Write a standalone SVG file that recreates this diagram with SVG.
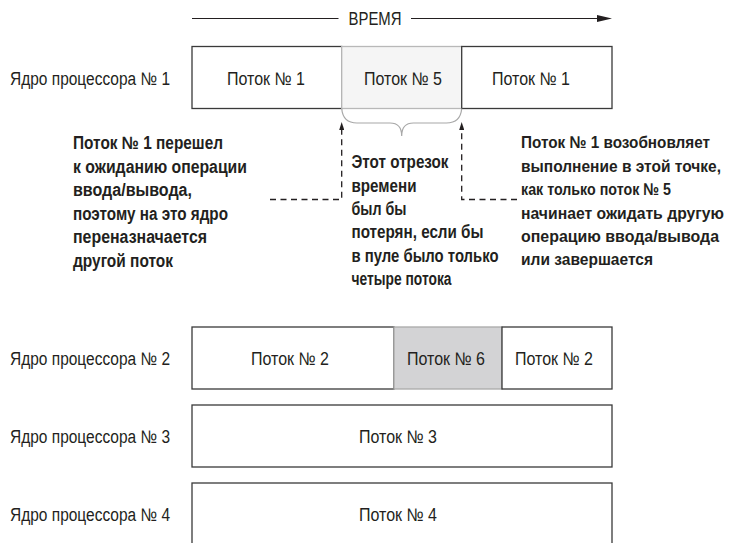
<svg xmlns="http://www.w3.org/2000/svg" width="730" height="543" viewBox="0 0 730 543">
<style>
  .lbl { font-family: "Liberation Sans Narrow", "Liberation Sans", Arial, sans-serif; font-size: 18px; fill: #231f20; }
  .bold { font-family: "Liberation Sans Narrow", "Liberation Sans", Arial, sans-serif; font-size: 18px; font-weight: bold; fill: #231f20; }
  .boldR { font-family: "Liberation Sans Narrow", "Liberation Sans", Arial, sans-serif; font-size: 17px; font-weight: bold; fill: #231f20; }
  .box { fill: #ffffff; stroke: #3a3a3a; stroke-width: 1.3; }
  .light { fill: #f5f5f5; stroke: #b8b8b8; stroke-width: 1.3; }
  .grey { fill: #d3d3d5; stroke: #a9a9a9; stroke-width: 1.3; }
  .line { fill: none; stroke: #231f20; stroke-width: 1.2; }
  .dash { fill: none; stroke: #231f20; stroke-width: 1.3; stroke-dasharray: 6 4.5; }
  .brace { fill: none; stroke: #a8a8a8; stroke-width: 1.2; }
</style>
<defs>
  <marker id="arrBig" markerUnits="userSpaceOnUse" markerWidth="15" markerHeight="7" refX="0" refY="3.5" orient="auto">
    <path d="M0,0 L15,3.5 L0,7 z" fill="#231f20"/>
  </marker>
  <marker id="arrSmall" markerUnits="userSpaceOnUse" markerWidth="8" markerHeight="5" refX="0" refY="2.5" orient="auto">
    <path d="M0,0 L8,2.5 L0,5 z" fill="#231f20"/>
  </marker>
</defs>

<g id="time-axis">
  <line class="line" x1="192" y1="18.5" x2="338.5" y2="18.5"/>
  <text class="lbl" x="375" y="25" text-anchor="middle" font-size="17" textLength="53" lengthAdjust="spacingAndGlyphs">ВРЕМЯ</text>
  <line class="line" x1="411" y1="18.5" x2="597" y2="18.5" marker-end="url(#arrBig)"/>
</g>

<g id="core1">
  <text class="lbl" x="10" y="84.5" textLength="160" lengthAdjust="spacingAndGlyphs">Ядро процессора № 1</text>
  <g id="core1-thread1a">
    <rect class="box" x="192" y="46.5" width="149.7" height="62"/>
    <text class="lbl" x="266" y="84.5" text-anchor="middle" textLength="78" lengthAdjust="spacingAndGlyphs">Поток № 1</text>
  </g>
  <g id="core1-thread5">
    <rect class="light" x="341.7" y="46.5" width="120" height="62"/>
    <text class="lbl" x="403" y="84.5" text-anchor="middle" textLength="78" lengthAdjust="spacingAndGlyphs">Поток № 5</text>
  </g>
  <g id="core1-thread1b">
    <rect class="box" x="461.7" y="46.5" width="150.3" height="62"/>
    <text class="lbl" x="531" y="84.5" text-anchor="middle" textLength="78" lengthAdjust="spacingAndGlyphs">Поток № 1</text>
  </g>
</g>

<g id="core2">
  <text class="lbl" x="10" y="364.5" textLength="160" lengthAdjust="spacingAndGlyphs">Ядро процессора № 2</text>
  <g id="core2-thread2a">
    <rect class="box" x="192" y="327" width="202" height="62"/>
    <text class="lbl" x="290" y="364.5" text-anchor="middle" textLength="78" lengthAdjust="spacingAndGlyphs">Поток № 2</text>
  </g>
  <g id="core2-thread6">
    <rect class="grey" x="394" y="327" width="108" height="62"/>
    <text class="lbl" x="446" y="364.5" text-anchor="middle" textLength="78" lengthAdjust="spacingAndGlyphs">Поток № 6</text>
  </g>
  <g id="core2-thread2b">
    <rect class="box" x="502" y="327" width="110" height="62"/>
    <text class="lbl" x="554" y="364.5" text-anchor="middle" textLength="78" lengthAdjust="spacingAndGlyphs">Поток № 2</text>
  </g>
</g>

<g id="core3">
  <text class="lbl" x="10" y="442.5" textLength="160" lengthAdjust="spacingAndGlyphs">Ядро процессора № 3</text>
  <g id="core3-thread3">
    <rect class="box" x="192" y="405" width="420" height="62"/>
    <text class="lbl" x="398" y="442.5" text-anchor="middle" textLength="78" lengthAdjust="spacingAndGlyphs">Поток № 3</text>
  </g>
</g>

<g id="core4">
  <text class="lbl" x="10" y="520.5" textLength="160" lengthAdjust="spacingAndGlyphs">Ядро процессора № 4</text>
  <g id="core4-thread4">
    <rect class="box" x="192" y="483" width="420" height="80"/>
    <text class="lbl" x="398" y="520.5" text-anchor="middle" textLength="78" lengthAdjust="spacingAndGlyphs">Поток № 4</text>
  </g>
</g>

<g id="connectors">
  <path class="brace" d="M341.7,108.5 C342.5,118 347,123 357,123 L390,123 C398,123 401.7,128 401.7,136 C401.7,128 405.4,123 413.4,123 L446.4,123 C456.4,123 460.9,118 461.7,108.5"/>
  <path class="dash" d="M270,199.5 H341.7 V130" marker-end="url(#arrSmall)"/>
  <path class="dash" d="M517,199.5 H461.7 V130" marker-end="url(#arrSmall)"/>
</g>

<g id="note-left">
  <text class="bold" x="73" y="149" textLength="150" lengthAdjust="spacingAndGlyphs">Поток № 1 перешел</text>
  <text class="bold" x="73" y="172.5" textLength="174" lengthAdjust="spacingAndGlyphs">к ожиданию операции</text>
  <text class="bold" x="73" y="196" textLength="119" lengthAdjust="spacingAndGlyphs">ввода/вывода,</text>
  <text class="bold" x="73" y="219.5" textLength="155" lengthAdjust="spacingAndGlyphs">поэтому на это ядро</text>
  <text class="bold" x="73" y="243" textLength="134" lengthAdjust="spacingAndGlyphs">переназначается</text>
  <text class="bold" x="73" y="266.5" textLength="100" lengthAdjust="spacingAndGlyphs">другой поток</text>
</g>

<g id="note-middle">
  <text class="bold" x="351.5" y="168.3" textLength="97" lengthAdjust="spacingAndGlyphs">Этот отрезок</text>
  <text class="bold" x="351.5" y="191.7" textLength="65" lengthAdjust="spacingAndGlyphs">времени</text>
  <text class="bold" x="351.5" y="215" textLength="55" lengthAdjust="spacingAndGlyphs">был бы</text>
  <text class="bold" x="351.5" y="238.4" textLength="132" lengthAdjust="spacingAndGlyphs">потерян, если бы</text>
  <text class="bold" x="351.5" y="261.8" textLength="147" lengthAdjust="spacingAndGlyphs">в пуле было только</text>
  <text class="bold" x="351.5" y="285.2" textLength="100" lengthAdjust="spacingAndGlyphs">четыре потока</text>
</g>

<g id="note-right">
  <text class="boldR" x="521" y="148.3" textLength="189" lengthAdjust="spacingAndGlyphs">Поток № 1 возобновляет</text>
  <text class="boldR" x="521" y="171.7" textLength="200" lengthAdjust="spacingAndGlyphs">выполнение в этой точке,</text>
  <text class="boldR" x="521" y="195.1" textLength="150" lengthAdjust="spacingAndGlyphs">как только поток № 5</text>
  <text class="boldR" x="521" y="218.5" textLength="203" lengthAdjust="spacingAndGlyphs">начинает ожидать другую</text>
  <text class="boldR" x="521" y="241.9" textLength="198" lengthAdjust="spacingAndGlyphs">операцию ввода/вывода</text>
  <text class="boldR" x="521" y="265.3" textLength="132" lengthAdjust="spacingAndGlyphs">или завершается</text>
</g>
</svg>
